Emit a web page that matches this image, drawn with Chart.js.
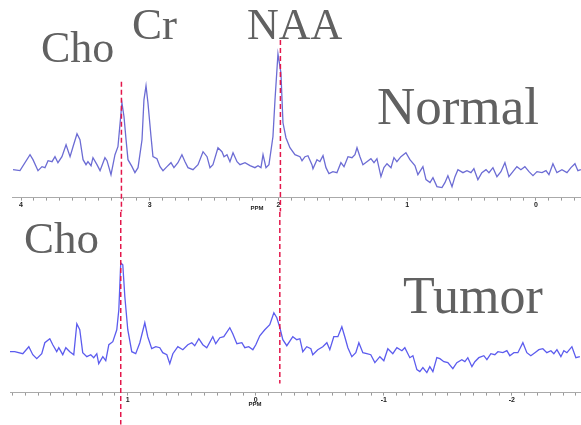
<!DOCTYPE html>
<html>
<head>
<meta charset="utf-8">
<script src="https://cdn.jsdelivr.net/npm/chart.js@4.4.1/dist/chart.umd.min.js"></script>
<style>
  html, body { margin: 0; padding: 0; background: #fff; }
  #wrap { position: relative; width: 581px; height: 425px; overflow: hidden; }
  .box { position: absolute; left: 0; width: 581px; }
  #top { top: 0; height: 212px; }
  #bot { top: 212px; height: 213px; }
  .lbl { position: absolute; font-family: 'Liberation Serif', serif; color: #616161; line-height: 1; white-space: nowrap; }
  .ppm { position: absolute; font: bold 6px 'Liberation Sans', Arial, sans-serif; color: #222; transform: translateX(-50%); }
</style>
</head>
<body>
<div id="wrap">
  <div class="box" id="top"><canvas id="normal-chart"></canvas></div>
  <div class="box" id="bot"><canvas id="tumor-chart"></canvas></div>

  <div class="lbl" style="left:41px;top:26px;font-size:44px">Cho</div>
  <div class="lbl" style="left:132px;top:2px;font-size:45px">Cr</div>
  <div class="lbl" style="left:247px;top:3px;font-size:44px">NAA</div>
  <div class="lbl" style="left:377px;top:80px;font-size:53px">Normal</div>
  <div class="lbl" style="left:24px;top:216px;font-size:45px">Cho</div>
  <div class="lbl" style="left:403px;top:270px;font-size:52px">Tumor</div>
  <div class="ppm" style="left:257px;top:205px">PPM</div>
  <div class="ppm" style="left:255px;top:401px">PPM</div>
</div>

<script>
// --- Data: normal spectrum (ppm, signal) ---
const normalPpm = [
  4.062, 4.008, 3.930, 3.907, 3.868, 3.837, 3.814, 3.790, 3.759, 3.736, 3.713, 3.682, 3.650, 3.619,
  3.596, 3.565, 3.542, 3.518, 3.495, 3.480, 3.456, 3.441, 3.410, 3.386, 3.348, 3.332, 3.301, 3.270,
  3.247, 3.216, 3.200, 3.184, 3.169, 3.138, 3.115, 3.091, 3.060, 3.045, 3.029, 3.014, 2.990, 2.975,
  2.944, 2.920, 2.897, 2.866, 2.835, 2.812, 2.781, 2.750, 2.726, 2.703, 2.664, 2.625, 2.586, 2.555,
  2.532, 2.509, 2.470, 2.439, 2.423, 2.400, 2.377, 2.353, 2.322, 2.299, 2.260, 2.221, 2.183, 2.159,
  2.136, 2.120, 2.097, 2.074, 2.043, 2.027, 2.004, 1.981, 1.965, 1.942, 1.911, 1.872, 1.833, 1.817,
  1.794, 1.771, 1.740, 1.732, 1.701, 1.678, 1.654, 1.631, 1.608, 1.577, 1.546, 1.515, 1.491, 1.460,
  1.429, 1.406, 1.390, 1.367, 1.344, 1.313, 1.282, 1.258, 1.235, 1.204, 1.181, 1.157, 1.126, 1.103,
  1.080, 1.049, 1.010, 0.979, 0.940, 0.917, 0.878, 0.854, 0.823, 0.800, 0.769, 0.730, 0.707, 0.684,
  0.652, 0.629, 0.606, 0.567, 0.536, 0.505, 0.482, 0.451, 0.420, 0.388, 0.365, 0.334, 0.303, 0.272,
  0.241, 0.210, 0.179, 0.148, 0.117, 0.086, 0.054, 0.023, -0.008, -0.047, -0.078, -0.101, -0.132,
  -0.163, -0.202, -0.241, -0.272, -0.303, -0.326, -0.349
];
const normalSignal = [
  28, 27, 43, 38, 27, 31, 30, 37, 36, 41, 35, 41, 53, 41,
  51, 64, 58, 38, 33, 36, 32, 40, 33, 27, 40, 37, 23, 43,
  51, 95, 81, 58, 38, 31, 25, 30, 58, 98, 112, 95, 61, 41,
  39, 31, 27, 31, 35, 30, 35, 43, 36, 30, 28, 33, 46, 41,
  30, 33, 50, 46, 41, 43, 36, 45, 36, 33, 35, 32, 30, 32,
  30, 43, 30, 33, 61, 98, 144, 125, 75, 60, 50, 43, 41, 37,
  41, 42, 33, 29, 38, 36, 42, 30, 24, 26, 25, 35, 31, 41,
  40, 43, 50, 41, 33, 36, 39, 35, 39, 21, 30, 34, 30, 40,
  36, 41, 45, 38, 32, 23, 31, 18, 15, 20, 11, 10, 15, 22,
  11, 21, 28, 25, 27, 25, 29, 18, 25, 28, 25, 30, 21, 26,
  35, 21, 26, 31, 28, 31, 26, 22, 26, 25, 27, 23, 34,
  25, 28, 25, 30, 34, 27, 28
];

// --- Data: tumor spectrum (ppm, signal) ---
const tumorPpm = [
  1.922, 1.883, 1.820, 1.773, 1.742, 1.711, 1.672, 1.648, 1.609, 1.586, 1.555, 1.539, 1.508, 1.484,
  1.453, 1.422, 1.398, 1.375, 1.352, 1.320, 1.289, 1.266, 1.242, 1.227, 1.195, 1.172, 1.148, 1.117,
  1.086, 1.070, 1.055, 1.039, 1.023, 1.000, 0.969, 0.938, 0.906, 0.867, 0.844, 0.813, 0.781, 0.750,
  0.727, 0.695, 0.672, 0.648, 0.609, 0.570, 0.531, 0.500, 0.477, 0.445, 0.414, 0.383, 0.336, 0.313,
  0.281, 0.250, 0.203, 0.180, 0.148, 0.109, 0.086, 0.055, 0.023, 0.000, -0.031, -0.070, -0.109,
  -0.141, -0.164, -0.188, -0.211, -0.242, -0.289, -0.320, -0.344, -0.367, -0.398, -0.430, -0.445,
  -0.484, -0.523, -0.555, -0.578, -0.609, -0.641, -0.672, -0.695, -0.719, -0.750, -0.781, -0.805,
  -0.836, -0.867, -0.898, -0.930, -0.969, -1.000, -1.031, -1.070, -1.102, -1.141, -1.164, -1.203,
  -1.227, -1.258, -1.281, -1.305, -1.336, -1.359, -1.383, -1.414, -1.438, -1.469, -1.500, -1.539,
  -1.570, -1.609, -1.633, -1.656, -1.688, -1.711, -1.742, -1.781, -1.805, -1.836, -1.867, -1.891,
  -1.930, -1.961, -1.984, -2.016, -2.047, -2.086, -2.117, -2.148, -2.180, -2.211, -2.242, -2.273,
  -2.305, -2.328, -2.352, -2.383, -2.406, -2.430, -2.469, -2.500, -2.531
];
const tumorSignal = [
  41, 41, 39, 46, 38, 34, 39, 50, 54, 48, 41, 45, 38, 45,
  41, 38, 69, 63, 40, 36, 38, 35, 39, 29, 36, 32, 48, 51,
  63, 83, 130, 128, 96, 63, 41, 39, 50, 70, 56, 44, 46, 45,
  40, 38, 29, 39, 46, 43, 48, 50, 47, 54, 48, 45, 56, 49,
  55, 56, 65, 59, 49, 50, 45, 46, 43, 48, 57, 63, 68,
  80, 75, 65, 53, 47, 56, 53, 54, 41, 46, 44, 38,
  43, 46, 50, 43, 56, 56, 66, 56, 45, 36, 40, 50,
  40, 39, 38, 30, 36, 32, 44, 39, 45, 42, 45, 35,
  37, 23, 21, 25, 20, 26, 21, 35, 34, 31, 30, 24,
  30, 33, 31, 35, 26, 31, 35, 37, 33, 39, 38, 41,
  40, 42, 37, 40, 40, 50, 40, 37, 40, 43, 44, 40,
  42, 39, 43, 36, 42, 40, 46, 35, 36
];

// --- Axis tick labels ---
const normalTickLabels = ['4', '3', '2', '1', '0'];
const tumorTickLabels = ['1', '0', '-1', '-2'];

// --- Reference lines (Cho, NAA): ppm and vertical extent in signal units ---
const normalMarkerPpm = [3.22, 1.985];
const normalMarkerTop = [116, 158];
const normalMarkerBottom = [-14, -14];
const tumorMarkerPpm = [1.055, -0.1875];
const tumorMarkerTop = [181, 181];
const tumorMarkerBottom = [-32, 9];

function buildChart(canvasId, opts) {
    const markerSets = opts.markerPpm.map((p, i) => ({
        data: [{ x: p, y: opts.markerTop[i] }, { x: p, y: opts.markerBottom[i] }],
        borderColor: '#e3174b',
        borderWidth: 1.5,
        borderDash: [5, 3],
        pointRadius: 0,
        clip: false,
        order: 0
    }));

    return new Chart(document.getElementById(canvasId), {
        type: 'line',
        data: {
            datasets: [{
                data: opts.ppm.map((p, i) => ({ x: p, y: opts.signal[i] })),
                borderColor: opts.color,
                borderWidth: 1.3,
                pointRadius: 0,
                tension: 0,
                order: 1
            }, ...markerSets]
        },
        options: {
            responsive: true,
            maintainAspectRatio: false,
            animation: false,
            layout: { padding: opts.padding },
            plugins: { legend: { display: false }, tooltip: { enabled: false } },
            scales: {
                x: {
                    type: 'linear',
                    reverse: true,
                    min: opts.min,
                    max: opts.max,
                    afterBuildTicks: (scale) => {
                        const ticks = [];
                        for (let i = Math.ceil(scale.min * 10 - 1e-6); i <= Math.floor(scale.max * 10 + 1e-6); i++) {
                            ticks.push({ value: i / 10 });
                        }
                        scale.ticks = ticks;
                    },
                    ticks: {
                        autoSkip: false,
                        maxRotation: 0,
                        padding: 0,
                        color: '#222',
                        font: { size: 7, weight: 'bold', family: 'Liberation Sans' },
                        callback: (v) => {
                            const r = Math.round(v);
                            return Math.abs(v - r) < 1e-6 && opts.tickLabels.includes(String(r)) ? String(r) : '';
                        }
                    },
                    grid: { drawOnChartArea: false, drawTicks: true, tickLength: 3, color: '#999' },
                    border: { display: true, color: '#aaa', width: 1 }
                },
                y: { display: false, min: 0, max: opts.ymax }
            }
        }
    });
}

buildChart('normal-chart', {
    ppm: normalPpm, signal: normalSignal, color: 'rgb(108,108,212)',
    min: -0.35, max: 4.07, ymax: 198, tickLabels: normalTickLabels,
    markerPpm: normalMarkerPpm, markerTop: normalMarkerTop, markerBottom: normalMarkerBottom,
    padding: { left: 12, right: 0, top: 0, bottom: 3 }
});

buildChart('tumor-chart', {
    ppm: tumorPpm, signal: tumorSignal, color: 'rgb(92,92,238)',
    min: -2.54, max: 1.92, ymax: 181, tickLabels: tumorTickLabels,
    markerPpm: tumorMarkerPpm, markerTop: tumorMarkerTop, markerBottom: tumorMarkerBottom,
    padding: { left: 10, right: 0, top: 0, bottom: 21 }
});
</script>
</body>
</html>
